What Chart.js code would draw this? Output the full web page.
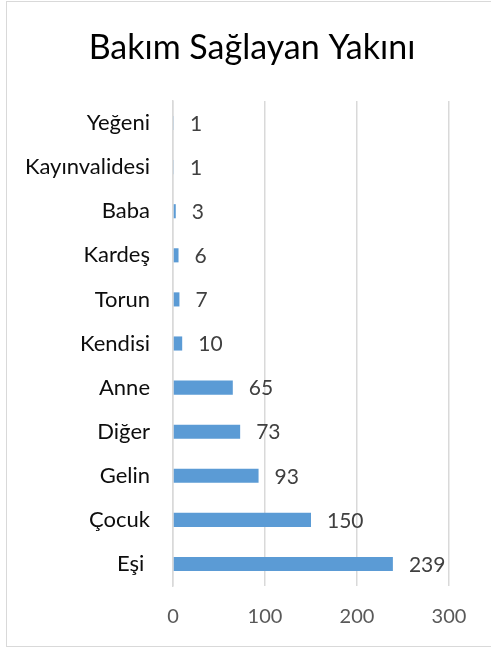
<!DOCTYPE html>
<html lang="tr">
<head>
<meta charset="UTF-8" />
<title>Bakım Sağlayan Yakını</title>
<script src="https://cdn.jsdelivr.net/npm/chart.js"></script>
<style>
  html, body { margin: 0; padding: 0; background: #fff; }
  body { width: 491px; height: 650px; position: relative; overflow: hidden; }
  .frame {
    position: absolute; left: 6px; top: 1px; width: 520px; height: 646px;
    border: 1.5px solid #d9d9d9; box-sizing: border-box;
  }
  .box { position: absolute; left: 0; top: 0; width: 491px; height: 650px; }
</style>
</head>
<body>
<div class="frame"></div>
<div class="box"><canvas id="chart" width="491" height="650"></canvas></div>
<script>
// categories from top to bottom, as they appear
const categories = ["Yeğeni", "Kayınvalidesi", "Baba", "Kardeş", "Torun", "Kendisi", "Anne", "Diğer", "Gelin", "Çocuk", "Eşi "];
const values = [1, 1, 3, 6, 7, 10, 65, 73, 93, 150, 239];
const xTicks = [0, 100, 200, 300];
const chartTitle = "Bakım Sağlayan Yakını";

const FONT = "Lato, 'Open Sans', sans-serif";

// title centred on the frame (the frame runs past the right edge)
const frameTitle = {
  id: "frameTitle",
  afterDraw(chart) {
    const ctx = chart.ctx;
    ctx.save();
    ctx.font = "34px " + FONT;
    ctx.fillStyle = "#000";
    ctx.textAlign = "center";
    ctx.textBaseline = "middle";
    ctx.fillText(chartTitle, 252, 48);
    ctx.restore();
  }
};

// value labels to the right of each bar
const valueLabels = {
  id: "valueLabels",
  afterDatasetsDraw(chart) {
    const ctx = chart.ctx;
    const meta = chart.getDatasetMeta(0);
    ctx.save();
    ctx.font = "21px " + FONT;
    ctx.fillStyle = "#404040";
    ctx.textAlign = "left";
    ctx.textBaseline = "middle";
    meta.data.forEach((bar, i) => {
      ctx.fillText(String(values[i]), bar.x + 16, bar.y + 1);
    });
    ctx.restore();
  }
};

new Chart(document.getElementById("chart"), {
  type: "bar",
  data: {
    labels: categories,
    datasets: [{
      data: values,
      backgroundColor: "#5b9bd5",
      borderWidth: 0,
      categoryPercentage: 1,
      barPercentage: 0.32
    }]
  },
  plugins: [valueLabels, frameTitle],
  options: {
    indexAxis: "y",
    responsive: false,
    animation: false,
    devicePixelRatio: 1,
    layout: { padding: { left: 6, right: 42, top: 101, bottom: 9 } },
    plugins: {
      legend: { display: false },
      tooltip: { enabled: false },
      title: { display: false }
    },
    scales: {
      x: {
        min: 0,
        max: 300,
        afterBuildTicks(scale) { scale.ticks = xTicks.map(v => ({ value: v })); },
        afterFit(scale) { scale.height = 55; },
        grid: { color: "#d9d9d9", lineWidth: 1.5, drawTicks: false },
        border: { display: false },
        ticks: { color: "#595959", font: { family: FONT, size: 20 }, padding: 19, maxRotation: 0 }
      },
      y: {
        afterFit(scale) { scale.width = 167; },
        grid: { display: false, drawTicks: false },
        border: { display: true, color: "#d9d9d9", width: 1.5 },
        ticks: { color: "#0d0d0d", font: { family: FONT, size: 22 }, padding: 23, autoSkip: false }
      }
    }
  }
});
</script>
</body>
</html>
